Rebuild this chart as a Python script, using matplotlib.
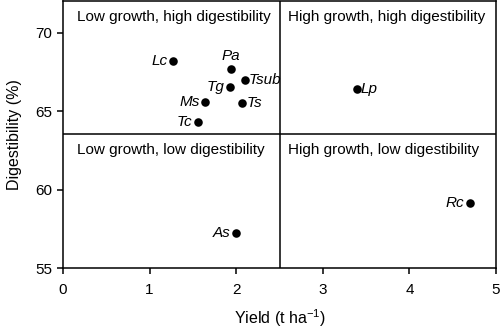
import matplotlib
matplotlib.use("Agg")
import matplotlib.pyplot as plt

plt.rcParams['font.family'] = ['Liberation Sans', 'DejaVu Sans']
plt.rcParams['mathtext.fontset'] = 'custom'
plt.rcParams['mathtext.rm'] = 'Liberation Sans'
plt.rcParams['mathtext.it'] = 'Liberation Sans:italic'

species = ['Lc', 'Pa', 'Tg', 'Tsub', 'Ms', 'Ts', 'Tc', 'Lp', 'As', 'Rc']
yield_t = [1.27, 1.94, 1.93, 2.10, 1.64, 2.07, 1.56, 3.39, 2.00, 4.70]
digest = [68.2, 67.7, 66.55, 66.95, 65.6, 65.5, 64.3, 66.4, 57.25, 59.15]
# label placement: l = left, r = right, t = top
placement = ['l', 't', 'l', 'r', 'l', 'r', 'l', 'r', 'l', 'l']

x_div = 2.5
y_div = 63.55
quad_labels = ['Low growth, high digestibility', 'High growth, high digestibility',
               'Low growth, low digestibility', 'High growth, low digestibility']

fig = plt.figure(figsize=(5.0, 3.29), dpi=100)
ax = fig.add_axes([0.126, 0.1854, 0.866, 0.811])

ax.scatter(yield_t, digest, s=38, color='black', zorder=3, linewidths=0)
for name, x, y, p in zip(species, yield_t, digest, placement):
    if p == 'l':
        ax.annotate(name, (x, y), xytext=(-4, 0), textcoords='offset points',
                    ha='right', va='center', fontsize=11, style='italic')
    elif p == 'r':
        ax.annotate(name, (x, y), xytext=(3, 0), textcoords='offset points',
                    ha='left', va='center', fontsize=11, style='italic')
    else:
        ax.annotate(name, (x, y), xytext=(0, 4), textcoords='offset points',
                    ha='center', va='bottom', fontsize=11, style='italic')

ax.axvline(x_div, color='black', lw=1.1)
ax.axhline(y_div, color='black', lw=1.1)

ax.text(0.16, 71.0, quad_labels[0], ha='left', va='center', fontsize=11)
ax.text(2.6, 71.0, quad_labels[1], ha='left', va='center', fontsize=11)
ax.text(0.16, 62.5, quad_labels[2], ha='left', va='center', fontsize=11)
ax.text(2.6, 62.5, quad_labels[3], ha='left', va='center', fontsize=11)

ax.set_xlim(0, 5)
ax.set_ylim(55, 72)
ax.set_xticks([0, 1, 2, 3, 4, 5])
ax.set_yticks([55, 60, 65, 70])
ax.tick_params(direction='out', length=4, width=1.1, labelsize=11, top=False, right=False)
ax.tick_params(axis='x', pad=7)
ax.tick_params(axis='y', pad=4)
for s in ax.spines.values():
    s.set_linewidth(1.1)

ax.set_xlabel('Yield (t ha$^{\u22121}$)', fontsize=11.5, labelpad=7)
ax.set_ylabel('Digestibility (%)', fontsize=11.5, labelpad=9)

fig.savefig('out.png', dpi=100)
